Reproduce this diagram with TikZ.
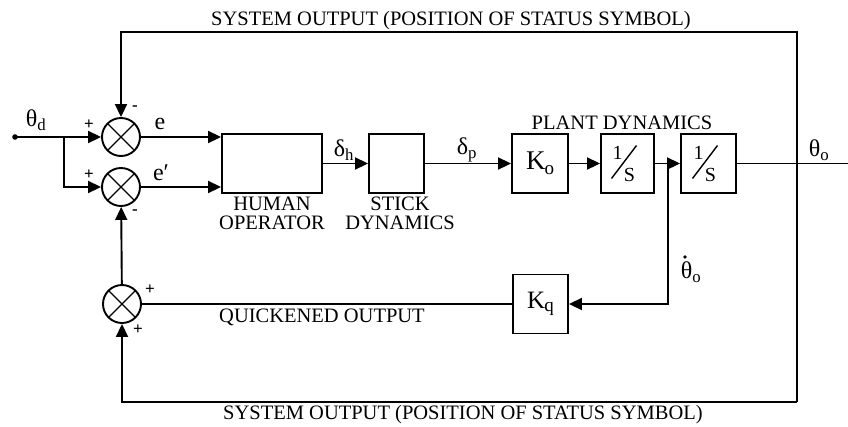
\documentclass[tikz,border=0pt]{standalone}
\usepackage{fontspec}
\setmainfont{Liberation Serif}
\usetikzlibrary{arrows.meta}
\begin{document}
\begin{tikzpicture}[x=1pt,y=-1pt,line width=1.9pt,
  blk/.style={draw,inner sep=0pt,minimum width=#1,minimum height=59pt},
  sumj/.style={draw,circle,minimum size=38pt,inner sep=0pt,
    path picture={\draw[line width=1.4pt]
      (path picture bounding box.north west)--(path picture bounding box.south east)
      (path picture bounding box.north east)--(path picture bounding box.south west);}},
  arr/.style={-{Triangle[length=13pt,width=12pt]}},
  lbl/.style={font=\fontsize{20.5}{19}\selectfont,inner sep=0pt},
  sym/.style={font=\fontsize{24}{26}\selectfont,inner sep=0pt},
  sgn/.style={font=\fontsize{17}{18}\selectfont\bfseries,inner sep=0pt},
  slash/.style={line width=1.4pt}]
\useasboundingbox (0,0) rectangle (848,426);

% summing junctions
\node[sumj] (j1) at (121,137) {};
\node[sumj] (j2) at (121,187) {};
\node[sumj] (j3) at (122,304) {};

% blocks
\node[blk=100pt] (ho) at (272,163.5) {};
\node[blk=55pt] (sd) at (396.5,163.5) {};
\node[blk=56pt] (ko) at (540,163.5) {};
\node[blk=53pt] (s1) at (627.5,163.5) {};
\node[blk=55pt] (s2) at (708.5,163.5) {};
\node[blk=55pt] (kq) at (540.5,304) {};

% block contents
\node[inner sep=0pt,font=\fontsize{27}{28}\selectfont] at (ko) {K\kern-1pt\raisebox{-0.18em}{\fontsize{19}{20}\selectfont o}};
\node[inner sep=0pt,font=\fontsize{25}{26}\selectfont] at (kq) {K\kern-1pt\raisebox{-0.1em}{\fontsize{19}{20}\selectfont q}};
\foreach \b in {s1,s2}{
  \node[inner sep=0pt,font=\fontsize{20}{22}\selectfont] at ([shift={(-10,-11)}]\b.center) {1};
  \node[inner sep=0pt,font=\fontsize{20}{22}\selectfont] at ([shift={(2,11)}]\b.center) {S};
  \draw[slash] ([shift={(-16,15)}]\b.center) -- ([shift={(9,-18)}]\b.center);
}

% coordinates
\coordinate (in) at (15,137);
\coordinate (br) at (64,137);
\coordinate (tl) at (121,32);
\coordinate (tr) at (797,32);
\coordinate (brr) at (797,402);
\coordinate (bl) at (122,402);
\coordinate (tap) at (668,163.5);
\coordinate (outend) at (848,163.5);

% connectors
\fill (in) circle (2.8pt);
\draw[arr] (in) -- (j1);
\draw[arr] (br) |- (j2);
\draw[arr] (j1.east) -- (ho.west |- j1);
\draw[arr] (j2.east) -- (ho.west |- j2);
\draw[arr] (ho) -- (sd);
\draw[arr] (sd) -- (ko);
\draw[arr] (ko) -- (s1);
\draw[arr] (s1) -- (s2);
\draw (s2) -- (outend);
\draw[arr] (brr) -- (tr) -- (tl) -- (j1);
\draw[arr] (brr) -- (bl) -- (j3);
\draw[arr] (tap) |- (kq);
\draw (kq) -- (j3);
\draw[arr] (j3) -- (j2);

% labels
\node[lbl,anchor=base] at (451,25) {SYSTEM OUTPUT (POSITION OF STATUS SYMBOL)};
\node[lbl,anchor=base] at (463,419) {SYSTEM OUTPUT (POSITION OF STATUS SYMBOL)};
\node[lbl,anchor=base,align=center] at (272,229) {HUMAN\\OPERATOR};
\node[lbl,anchor=base,align=center] at (400,229) {STICK\\DYNAMICS};
\node[lbl,anchor=base] at (622,129) {PLANT DYNAMICS};
\node[lbl,anchor=base] at (322,322) {QUICKENED OUTPUT};

\node[sym] at (36,120) {θ\textsubscript{d}};
\node[sym] at (160,124) {e};
\node[sym] at (161,173) {e′};
\node[sym] at (344,150) {δ\textsubscript{h}};
\node[sym] at (467,150) {δ\textsubscript{p}};
\node[sym] at (819,150) {θ\textsubscript{o}};
\node[sym] (thd) at (691,272) {θ\textsubscript{o}};
\fill (685,257) circle (1.8pt);

\node[sgn] at (89,125) {+};
\node[sgn] at (135,108) {-};
\node[sgn] at (89,175) {+};
\node[sgn] at (135,212) {-};
\node[sgn] at (150,290) {+};
\node[sgn] at (138,330) {+};
\end{tikzpicture}
\end{document}
